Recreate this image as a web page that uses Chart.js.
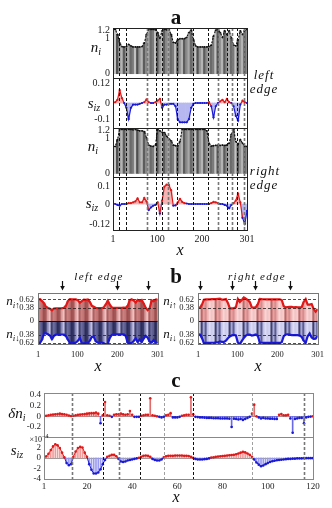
<!DOCTYPE html>
<html>
<head>
<meta charset="utf-8">
<script src="https://cdn.jsdelivr.net/npm/chart.js@4.4.0/dist/chart.umd.min.js"></script>
<style>
body{margin:0;background:#fff;}
#root{position:relative;width:332px;height:508px;overflow:hidden;font-family:"Liberation Serif","DejaVu Serif",serif;}
canvas{position:absolute;}
.t{position:absolute;transform:translate(-50%,-50%);line-height:1;white-space:nowrap;color:#111;z-index:5;}
.b{font-weight:bold;font-size:21px;}
.i{font-style:italic;font-size:15px;}
.i sub{font-size:10px;vertical-align:-3px;line-height:0;}
.n{font-size:13px;}
.n sub{font-size:9px;}
.e{font-style:italic;font-size:13px;letter-spacing:1px;}
.e2{font-style:italic;font-size:11px;letter-spacing:1.3px;}
.x{font-size:16px;}
.sm{font-size:8px;}
.sm sup{font-size:6px;vertical-align:4px;line-height:0;}
</style>
</head>
<body>
<div id="root">
  <div class="t b" style="left:176px;top:17px">a</div>
  <div class="t i" style="left:96px;top:47px">n<sub>i</sub></div>
  <div class="t i" style="left:94px;top:103px">s<sub>iz</sub></div>
  <div class="t i" style="left:93px;top:146px">n<sub>i</sub></div>
  <div class="t i" style="left:92px;top:203px">s<sub>iz</sub></div>
  <div class="t e" style="left:264px;top:74px">left</div>
  <div class="t e" style="left:264px;top:88px">edge</div>
  <div class="t e" style="left:265px;top:170px">right</div>
  <div class="t e" style="left:264px;top:184px">edge</div>
  <div class="t i x" style="left:180px;top:250px">x</div>

  <div class="t b" style="left:176px;top:276px">b</div>
  <div class="t e2" style="left:99px;top:276px">left edge</div>
  <div class="t e2" style="left:257px;top:276px">right edge</div>
  <div class="t i n" style="left:13px;top:300px">n<sub>i↑</sub></div>
  <div class="t i n" style="left:13px;top:333px">n<sub>i↓</sub></div>
  <div class="t i n" style="left:170px;top:300px">n<sub>i↑</sub></div>
  <div class="t i n" style="left:170px;top:333px">n<sub>i↓</sub></div>
  <div class="t i x" style="left:98px;top:366px">x</div>
  <div class="t i x" style="left:258px;top:366px">x</div>

  <div class="t b" style="left:176px;top:380px">c</div>
  <div class="t i" style="left:17px;top:413px">δn<sub>i</sub></div>
  <div class="t i" style="left:17px;top:450px">s<sub>iz</sub></div>
  <div class="t sm" style="left:39px;top:440px">×10<sup>−4</sup></div>
  <div class="t i x" style="left:176px;top:497px">x</div>
</div>
<script>
// sites used for panels a and b (every 5th site)
var xA = [1,6,11,16,21,26,31,36,41,46,51,56,61,66,71,76,81,86,91,96,
  101,106,111,116,121,126,131,136,141,146,151,156,161,166,171,176,181,186,191,196,
  201,206,211,216,221,226,231,236,241,246,251,256,261,266,271,276,281,286,291,296,301];

// left edge
var nLeft = [1.24,1.24,1.1,0.86,0.76,0.75,0.76,0.82,0.78,0.75,
  0.75,0.75,0.75,0.76,0.86,1.1,1.24,1.24,1.24,1.23,
  1.15,1.0,1.2,1.24,1.23,1.24,1.1,0.88,0.86,0.95,
  0.98,0.98,0.98,1.02,1.15,1.22,0.95,0.78,0.75,0.75,
  0.75,0.75,0.75,0.76,0.8,1.05,1.22,1.24,1.15,1.02,
  1.2,1.1,1.2,1.0,0.8,0.78,0.95,1.2,1.1,1.22,1.24];
var sLeft = [0,0.005,0.02,0.08,0.03,0,-0.03,-0.1,-0.03,-0.01,
  -0.01,-0.01,-0.005,0,0.005,0.022,0.005,0,0,0.005,
  0.015,0.025,-0.03,-0.01,-0.01,-0.005,-0.005,-0.005,-0.02,-0.1,
  -0.12,-0.12,-0.12,-0.12,-0.1,-0.03,-0.005,0,0,0,
  0,0,0,0.005,-0.02,-0.09,-0.02,0,0.01,0.02,
  0.005,0.025,0.005,0,-0.02,-0.08,-0.11,-0.01,0.015,0.005,0];

// right edge
var nRight = [0.76,0.76,0.95,1.24,1.24,1.24,1.24,1.24,1.24,1.23,
  1.24,1.22,1.2,1.2,1.18,1.0,0.8,0.77,0.76,0.8,
  1.24,1.2,1.16,1.15,1.05,0.98,0.92,0.8,0.78,0.78,
  0.9,1.24,1.24,1.24,1.24,1.24,1.24,1.24,1.24,1.24,
  1.24,1.24,1.2,0.85,0.77,0.78,0.79,0.8,0.79,0.8,
  0.79,0.8,0.85,1.1,1.24,0.9,0.82,0.95,0.85,0.77,0.76];
var sRight = [0.005,0,-0.005,-0.01,0,0,0,0.005,0.005,0.01,
  0.015,0.033,0.01,0.01,0.035,0.015,-0.035,-0.02,-0.01,-0.005,
  0.01,-0.055,0.02,0.1,0.112,0.11,0.08,-0.01,-0.008,0.01,
  0.03,0.012,0.005,0.003,0,0,0,0,0,0,
  0,0,0,0,0.005,0.012,0.01,0.005,0,0,
  -0.005,-0.01,-0.025,-0.005,0.005,0.02,0.06,0.01,-0.08,-0.115,-0.04];

var dashBlackA = [14.5,29.6,97,110,143.6,181,214.7,256,278.5];
var dashGrayA = [76,124.7,237,267.3,293.4];
var arrowsLeft = [60,200,278];
var arrowsRight = [6,87,143,231];
var ticksAx = [1,100,200,301];

// panel c, sites 1..120
var dnC = [0,0.01,0.02,0.03,0.035,0.04,0.045,0.05,0.045,0.04,
  0.03,0.015,0.005,0.01,0.02,0.03,0.035,0.04,0.045,0.05,
  0.055,0.06,0.06,0.07,0.05,-0.13,0.02,0.27,0.02,0.01,
  -0.01,0.03,0.04,0.04,0.05,0.04,0.03,0.04,0.1,0.03,
  -0.01,-0.01,-0.01,0.01,0.02,0.03,0.03,0.34,0.02,0.01,
  0,-0.01,-0.02,-0.01,0.02,0.03,0.06,-0.02,-0.02,-0.02,
  -0.01,0.01,0.02,0.03,0.03,0.36,0.04,-0.01,-0.015,-0.02,
  -0.02,-0.025,-0.03,-0.03,-0.03,-0.035,-0.035,-0.035,-0.04,-0.04,
  -0.04,-0.04,-0.045,-0.2,-0.045,-0.05,-0.06,-0.05,-0.07,-0.05,
  -0.03,-0.01,0.05,0.22,0,-0.02,-0.04,-0.03,-0.04,-0.04,
  -0.045,-0.045,-0.05,-0.05,0.03,0.045,0.02,0.02,0.03,-0.04,
  -0.31,-0.05,-0.04,-0.03,-0.03,-0.13,-0.02,-0.01,-0.005,0];
var sC = [0,0.3,0.8,1.5,2.2,2.6,2.4,1.9,1.0,0.1,
  -1.0,-1.4,-1.2,0.2,1.2,1.9,2.1,2.0,1.0,0.2,
  -1.2,-2.3,-3.0,-3.0,-2.8,-2.2,-1.2,-0.4,0.2,0.4,
  0.6,0.6,0.3,-0.2,-0.7,-0.8,-0.7,-0.5,-0.4,-0.3,
  -0.2,-0.1,0,0.2,0.4,0.45,0.4,0.2,-0.2,-0.4,
  -0.5,-0.5,-0.3,0.1,0.3,0.4,0.4,0.4,0.45,0.45,
  0.45,0.45,0.4,0.4,0.35,0.2,0,-0.2,-0.3,-0.3,
  -0.3,-0.25,-0.2,-0.1,0.05,0.1,0.2,0.25,0.3,0.35,
  0.4,0.45,0.5,0.55,0.6,0.7,0.85,1.0,1.15,1.05,
  0.85,0.6,0.2,-0.3,-0.9,-1.3,-1.6,-1.45,-1.2,-1.0,
  -0.8,-0.65,-0.55,-0.45,-0.4,-0.35,-0.3,-0.25,-0.2,-0.2,
  -0.15,-0.15,-0.1,-0.1,-0.1,-0.05,-0.05,-0.05,-0.05,-0.05];
var xC = dnC.map(function (v, i) { return i + 1; });
var dashBlackC = [27,43.5,67];
var dashGrayC = [13.5,34,116];
var dashThinC = [54,93];
var ticksCx = [1,20,40,60,80,100,120];

var RED = '#e01818', BLUE = '#1a1ad6', RED_L = '#f4b4b4', BLUE_L = '#b8b8f0';
var grayPal = ['#7a7a7a','#a8a8a8','#5c5c5c','#949494','#c2c2c2','#6a6a6a','#8a8a8a','#b4b4b4','#505050'];
// left b panel is darker, right b panel lighter
var redPalL = ['#b06060','#d89a9a','#9c5050','#c88080','#f0c0c0','#a85858','#c47474'];
var bluePalL = ['#40406e','#8888b8','#2c2c58','#6c6ca0','#c0c0e4','#38386a','#5a5a8c'];
var redPalR = ['#f4c4c4','#e8a0a0','#f8d4d4','#b86a6a','#f0b4b4','#f6cccc','#d88c8c'];
var bluePalR = ['#ccccee','#a8a8d8','#dcdcf4','#40406e','#c0c0e8','#d4d4f2','#5c5c90'];

Chart.defaults.font.family = '"Liberation Serif", "DejaVu Serif", serif';

function pts(xs, ys) {
  return xs.map(function (x, i) { return { x: x, y: ys[i] }; });
}
function pal(p, n, k) {
  var out = [];
  for (var i = 0; i < n; i++) out.push(p[(i * k) % p.length]);
  return out;
}

var decoPlugin = {
  id: 'deco',
  beforeDatasetsDraw: function (chart, args, o) {
    var ctx = chart.ctx, a = chart.chartArea, ys = chart.scales.y;
    ctx.save();
    (o.under || []).forEach(function (h) {
      ctx.strokeStyle = h.color; ctx.lineWidth = h.width; ctx.setLineDash(h.dash || []);
      h.at.forEach(function (v) {
        var py = Math.round(ys.getPixelForValue(v)) + 0.5;
        ctx.beginPath(); ctx.moveTo(a.left, py); ctx.lineTo(a.right, py); ctx.stroke();
      });
    });
    ctx.restore();
  },
  afterDatasetsDraw: function (chart, args, o) {
    var ctx = chart.ctx, a = chart.chartArea, xs = chart.scales.x, ys = chart.scales.y;
    ctx.save();
    ctx.beginPath(); ctx.rect(a.left, a.top, a.right - a.left, a.bottom - a.top); ctx.clip();
    (o.vlines || []).forEach(function (g) {
      ctx.strokeStyle = g.color; ctx.lineWidth = g.width; ctx.setLineDash(g.dash);
      g.at.forEach(function (v) {
        var px = Math.round(xs.getPixelForValue(v)) + 0.5;
        ctx.beginPath(); ctx.moveTo(px, a.top); ctx.lineTo(px, a.bottom); ctx.stroke();
      });
    });
    (o.hlines || []).forEach(function (h) {
      ctx.strokeStyle = h.color; ctx.lineWidth = h.width; ctx.setLineDash(h.dash);
      h.at.forEach(function (v) {
        var py = Math.round(ys.getPixelForValue(v)) + 0.5;
        ctx.beginPath(); ctx.moveTo(a.left, py); ctx.lineTo(a.right, py); ctx.stroke();
      });
    });
    ctx.restore();
    ctx.save();
    ctx.setLineDash([]);
    ctx.strokeStyle = o.frame || '#222'; ctx.lineWidth = 1;
    var l = Math.round(a.left), t = Math.round(a.top);
    ctx.strokeRect(l + 0.5, t + 0.5, Math.round(a.right) - l, Math.round(a.bottom) - t);
    (o.arrows || []).forEach(function (v) {
      var px = Math.round(xs.getPixelForValue(v)) + 0.5;
      ctx.strokeStyle = '#111'; ctx.fillStyle = '#111'; ctx.lineWidth = 1.2;
      ctx.beginPath(); ctx.moveTo(px, a.top - 12); ctx.lineTo(px, a.top - 6); ctx.stroke();
      ctx.beginPath(); ctx.moveTo(px - 2.3, a.top - 7); ctx.lineTo(px + 2.3, a.top - 7); ctx.lineTo(px, a.top - 2.5);
      ctx.closePath(); ctx.fill();
    });
    ctx.restore();
  }
};

function makePanel(box, m, datasets, sc, deco) {
  var cv = document.createElement('canvas');
  var w = box.w + m.l + m.r, h = box.h + m.t + m.b;
  cv.width = w; cv.height = h;
  cv.style.left = (box.x - m.l) + 'px';
  cv.style.top = (box.y - m.t) + 'px';
  cv.style.width = w + 'px';
  cv.style.height = h + 'px';
  document.getElementById('root').appendChild(cv);
  var showX = !!sc.xTicks;
  return new Chart(cv, {
    type: 'bar',
    data: { datasets: datasets },
    plugins: [decoPlugin],
    options: {
      responsive: false, animation: false, devicePixelRatio: 1,
      layout: { padding: { left: 0, right: m.r, top: m.t, bottom: showX ? 0 : m.b } },
      plugins: { legend: { display: false }, tooltip: { enabled: false }, deco: deco },
      scales: {
        x: {
          type: 'linear', min: sc.xMin, max: sc.xMax, offset: false, display: showX,
          grid: { display: false, drawTicks: false }, border: { display: false },
          ticks: { font: { size: sc.fs }, color: '#222', padding: sc.xPad, maxRotation: 0, autoSkip: false,
            callback: function (v) { return String(v); } },
          afterBuildTicks: function (s) { s.ticks = (sc.xTicks || []).map(function (v) { return { value: v }; }); },
          afterFit: function (s) { s.height = showX ? m.b : 0; }
        },
        y: {
          min: sc.yMin, max: sc.yMax,
          grid: { display: false, drawTicks: false }, border: { display: false },
          ticks: { font: { size: sc.fs }, color: '#222', padding: sc.yPad, autoSkip: false,
            callback: sc.fmt || function (v) { return String(v); } },
          afterBuildTicks: function (s) { s.ticks = sc.yTicks.map(function (v) { return { value: v }; }); },
          afterFit: function (s) { s.width = m.l; }
        }
      }
    }
  });
}

// ---- panel a ----
function niSets(n) {
  return [
    { type: 'line', data: pts(xA, n), borderColor: '#111', borderWidth: 1.1, borderDash: [2, 1.5],
      pointRadius: 0.9, pointBackgroundColor: '#111', pointBorderWidth: 0, order: 0 },
    { type: 'bar', data: pts(xA, n), backgroundColor: pal(grayPal, n.length, 4),
      barPercentage: 1, categoryPercentage: 1, grouped: false, order: 1 }
  ];
}
function sSets(s) {
  return [
    { type: 'line', data: pts(xA, s), borderColor: BLUE, borderWidth: 1.2,
      pointRadius: 1.1, pointBorderWidth: 0,
      pointBackgroundColor: function (c) { return c.raw && c.raw.y > 0.004 ? RED : BLUE; },
      segment: { borderColor: function (c) { return Math.max(c.p0.parsed.y, c.p1.parsed.y) > 0.004 ? RED : BLUE; } },
      order: 0 },
    { type: 'bar', data: pts(xA, s), backgroundColor: s.map(function (v) { return v > 0 ? RED_L : BLUE_L; }),
      barPercentage: 1, categoryPercentage: 1, grouped: false, order: 1 }
  ];
}
var decoA = {
  frame: '#222',
  vlines: [
    { at: dashBlackA, color: '#111', width: 1, dash: [3, 2] },
    { at: dashGrayA, color: '#777', width: 1.6, dash: [3, 2] }
  ]
};
var mA = { l: 34, t: 10, r: 12, b: 10 };
var axA = { xMin: 1, xMax: 301, fs: 10, yPad: 3, xPad: 3 };

makePanel({ x: 113, y: 28, w: 134, h: 50 }, mA, niSets(nLeft),
  Object.assign({}, axA, { yMin: -0.12, yMax: 1.28, yTicks: [0, 1, 1.2] }), decoA);
makePanel({ x: 113, y: 78, w: 134, h: 50 }, mA, sSets(sLeft),
  Object.assign({}, axA, { yMin: -0.155, yMax: 0.155, yTicks: [-0.1, 0, 0.12] }), decoA);
makePanel({ x: 113, y: 128, w: 134, h: 49 }, mA, niSets(nRight),
  Object.assign({}, axA, { yMin: -0.1, yMax: 1.28, yTicks: [0, 1, 1.2] }), decoA);
makePanel({ x: 113, y: 177, w: 134, h: 53 }, { l: 34, t: 10, r: 12, b: 16 }, sSets(sRight),
  Object.assign({}, axA, { yMin: -0.15, yMax: 0.156, yTicks: [-0.12, 0, 0.1], xTicks: ticksAx }), decoA);

// ---- panel b ----
function bSets(n, s, rp, bp, k) {
  var up = n.map(function (v, i) { return v / 2 + s[i]; });
  var dn = n.map(function (v, i) { return -(v / 2 - s[i]); });
  return [
    { type: 'line', data: pts(xA, up), borderColor: RED, borderWidth: 2.2, pointRadius: 0, order: 0 },
    { type: 'line', data: pts(xA, dn), borderColor: BLUE, borderWidth: 2.2, pointRadius: 0, order: 0 },
    { type: 'bar', data: pts(xA, up), backgroundColor: pal(rp, n.length, k),
      barPercentage: 1, categoryPercentage: 1, grouped: false, order: 1 },
    { type: 'bar', data: pts(xA, dn), backgroundColor: pal(bp, n.length, k),
      barPercentage: 1, categoryPercentage: 1, grouped: false, order: 1 }
  ];
}
function bDeco(arrows) {
  return {
    frame: '#777',
    arrows: arrows,
    hlines: [
      { at: [0], color: '#111', width: 1, dash: [] },
      { at: [0.62, 0.38, -0.38, -0.62], color: '#222', width: 0.8, dash: [3, 2] }
    ]
  };
}
var axB = { xMin: 1, xMax: 301, fs: 8.5, yPad: 4, xPad: 6, yMin: -0.65, yMax: 0.8,
  yTicks: [-0.62, -0.38, 0, 0.38, 0.62], xTicks: ticksAx,
  fmt: function (v) { return v === 0 ? '0' : Math.abs(v).toFixed(2); } };
var mB = { l: 32, t: 22, r: 12, b: 18 };
makePanel({ x: 38, y: 293, w: 120, h: 51 }, mB, bSets(nLeft, sLeft, redPalL, bluePalL, 3), axB, bDeco(arrowsLeft));
makePanel({ x: 198, y: 293, w: 120, h: 51 }, mB, bSets(nRight, sRight, redPalR, bluePalR, 5), axB, bDeco(arrowsRight));

// ---- panel c ----
var decoC = {
  frame: '#888',
  under: [{ at: [0], color: '#999', width: 1, dash: [] }],
  vlines: [
    { at: dashBlackC, color: '#111', width: 1, dash: [3, 2] },
    { at: dashGrayC, color: '#777', width: 1.6, dash: [3, 2] },
    { at: dashThinC, color: '#888', width: 0.8, dash: [3, 2] }
  ]
};
var dnSets = [
  { type: 'line', data: pts(xC, dnC), showLine: false, pointRadius: 1.3, pointBorderWidth: 0,
    pointBackgroundColor: function (c) { return c.raw && c.raw.y < 0 ? BLUE : RED; }, order: 0 },
  { type: 'bar', data: pts(xC, dnC), barThickness: 1, grouped: false, order: 1,
    backgroundColor: dnC.map(function (v) { return v < 0 ? '#6a6ae4' : '#e46a6a'; }) }
];
var scSets = [
  { type: 'line', data: pts(xC, sC), borderColor: RED, borderWidth: 1, pointRadius: 1.3, pointBorderWidth: 0,
    pointBackgroundColor: function (c) { return c.raw && c.raw.y < 0 ? BLUE : RED; },
    segment: { borderColor: function (c) { return (c.p0.parsed.y + c.p1.parsed.y) < 0 ? BLUE : RED; } },
    order: 0 },
  { type: 'bar', data: pts(xC, sC), barThickness: 1, grouped: false, order: 1,
    backgroundColor: sC.map(function (v) { return v < 0 ? '#9a9af0' : '#f29a9a'; }) }
];
makePanel({ x: 44, y: 393, w: 269, h: 44 }, { l: 30, t: 10, r: 12, b: 10 }, dnSets,
  { xMin: 1, xMax: 120, fs: 9, yPad: 3, yMin: -0.39, yMax: 0.44, yTicks: [-0.2, 0, 0.2, 0.4] }, decoC);
makePanel({ x: 44, y: 437, w: 269, h: 42 }, { l: 30, t: 10, r: 12, b: 14 }, scSets,
  { xMin: 1, xMax: 120, fs: 9, yPad: 3, xPad: 2.5, yMin: -4.05, yMax: 4, yTicks: [-4, -2, 0, 2], xTicks: ticksCx }, decoC);
</script>
</body>
</html>
